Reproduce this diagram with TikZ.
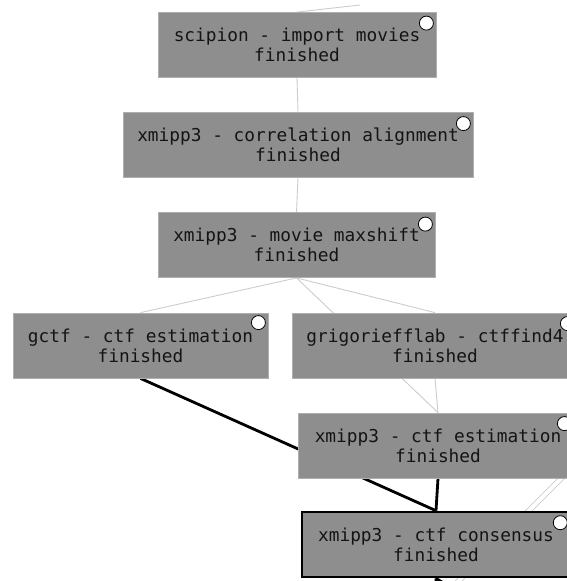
\documentclass[tikz,border=0pt]{standalone}
\usepackage{fontspec}
\setmonofont{DejaVu Sans Mono}
\definecolor{boxfill}{RGB}{142,142,142}
\definecolor{boxline}{RGB}{175,175,175}
\definecolor{thinedge}{RGB}{205,205,205}
\definecolor{txt}{RGB}{20,20,20}
\tikzset{
  protbox/.style={rectangle, fill=boxfill, draw=boxline, line width=0.8pt,
    inner sep=0pt, minimum height=65pt, align=center, text=txt,
    font=\ttfamily\fontsize{17.8}{20}\selectfont},
  selbox/.style={protbox, draw=black, line width=2.6pt},
  statdot/.style={circle, fill=white, draw=black, line width=0.8pt,
    minimum size=14pt, inner sep=0pt},
  lightedge/.style={draw=thinedge, line width=0.9pt},
  boldedge/.style={draw=black, line width=2.8pt},
}
\begin{document}
\begin{tikzpicture}[x=1pt,y=-1pt]
\useasboundingbox (0,0) rectangle (567,581);
\clip (0,0) rectangle (567,581);
\fill[white] (0,0) rectangle (567,581);

% nodes placed first (for coordinates), drawn with text later
\path
  (297,45)    node[protbox, minimum width=278pt] (imp)  {}
  (298,144.5) node[protbox, minimum width=350pt] (corr) {}
  (296.5,245) node[protbox, minimum width=277pt] (maxs) {}
  (140.5,345.5) node[protbox, minimum width=255pt] (gctf) {}
  (435,345.5) node[protbox, minimum width=286pt] (grig) {}
  (438,445.5) node[protbox, minimum width=280pt] (ctfe) {}
  (436,544.5) node[selbox, minimum width=268pt] (cons) {};

\coordinate (topfree) at (360,5);
\coordinate (dblA1) at (455,581);
\coordinate (dblA2) at (590,446);
\coordinate (dblB1) at (460,583);
\coordinate (dblB2) at (595,448);
\coordinate (downA) at (437,600);
\coordinate (downB) at (470,600);

% light connectors
\draw[lightedge] (imp.north) -- (topfree);
\draw[lightedge] (imp.south) -- (corr.north);
\draw[lightedge] (corr.south) -- (maxs.north);
\draw[lightedge] (maxs.south) -- (gctf.north);
\draw[lightedge] (maxs.south) -- (grig.north);
\draw[lightedge] (maxs.south) -- (ctfe.north);
\draw[lightedge] (grig.south) -- (ctfe.north);
\draw[lightedge, line width=0.7pt] (dblA1) -- (dblA2);
\draw[lightedge, line width=0.7pt] (dblB1) -- (dblB2);

% bold connectors
\draw[boldedge] (gctf.south) -- (cons.north);
\draw[boldedge] (ctfe.south) -- (cons.north);
\draw[boldedge] (cons.south) -- (downA);
\draw[boldedge] (cons.south) -- (downB);

% boxes with text
\node[protbox, minimum width=278pt] (impT) at (imp) {scipion - import movies\\finished};
\node[protbox, minimum width=350pt] (corrT) at (corr) {xmipp3 - correlation alignment\\finished};
\node[protbox, minimum width=277pt] (maxsT) at (maxs) {xmipp3 - movie maxshift\\finished};
\node[protbox, minimum width=255pt] (gctfT) at (gctf) {gctf - ctf estimation\\finished};
\node[protbox, minimum width=286pt] (grigT) at (grig) {grigorieff{}lab - ctffind4\\finished};
\node[protbox, minimum width=280pt] (ctfeT) at (ctfe) {xmipp3 - ctf estimation\\finished};
\node[selbox, minimum width=268pt] (consT) at (cons) {xmipp3 - ctf consensus\\finished};

% status dots
\node[statdot] (impD)  at ([xshift=-10pt,yshift=-11pt]imp.north east) {};
\node[statdot] (corrD) at ([xshift=-10pt,yshift=-12pt]corr.north east) {};
\node[statdot] (maxsD) at ([xshift=-10pt,yshift=-12pt]maxs.north east) {};
\node[statdot] (gctfD) at ([xshift=-10pt,yshift=-10pt]gctf.north east) {};
\node[statdot] (grigD) at ([xshift=-11pt,yshift=-11pt]grig.north east) {};
\node[statdot] (ctfeD) at ([xshift=-14pt,yshift=-11pt]ctfe.north east) {};
\node[statdot] (consD) at ([xshift=-11pt,yshift=-12pt]cons.north east) {};
\end{tikzpicture}
\end{document}
